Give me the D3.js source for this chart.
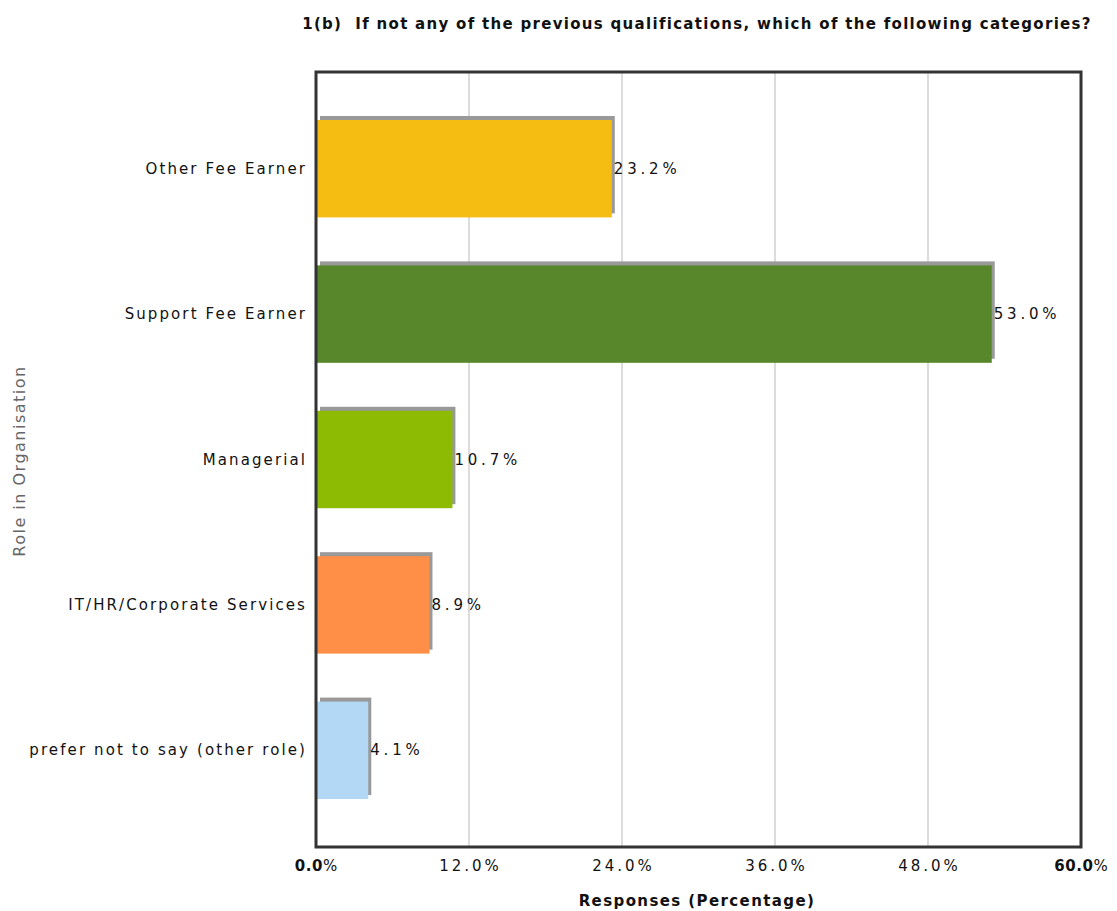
<!DOCTYPE html>
<html><head><meta charset="utf-8">
<script src="https://cdn.jsdelivr.net/npm/d3@7"></script>
<style>body{margin:0;background:#fff;} svg{display:block;}</style>
</head><body>
<svg id="chart" width="1117" height="911"></svg>
<script>
const categories = ["Other Fee Earner","Support Fee Earner","Managerial","IT/HR/Corporate Services","prefer not to say (other role)"];
const values = [23.2, 53.0, 10.7, 8.9, 4.1];
const colors = ["#F5BC12","#58862A","#8DBB04","#FF8F46","#B3D8F5"];
const tickValues = [0, 12, 24, 36, 48, 60];
const title = "1(b)  If not any of the previous qualifications, which of the following categories?";
const xTitle = "Responses (Percentage)";
const yTitle = "Role in Organisation";

const svg = d3.select("#chart");
const L = 316, R = 1081, T = 72, B = 847;
const x = d3.scaleLinear().domain([0, 60]).range([L, R]);
const y = d3.scaleBand().domain(categories).range([96, 823]).paddingInner(0.33).paddingOuter(0.165);

// gridlines
svg.append("g").selectAll("line").data(tickValues.filter(v => v > 0 && v < 60)).join("line")
  .attr("x1", d => x(d)).attr("x2", d => x(d)).attr("y1", T).attr("y2", B)
  .attr("stroke", "#d0d0d0").attr("stroke-width", 1.5);

// shadows
svg.append("g").selectAll("rect").data(values).join("rect")
  .attr("x", x(0) + 4).attr("y", (d, i) => y(categories[i]) - 4)
  .attr("width", d => x(d) - x(0) - 1).attr("height", y.bandwidth())
  .attr("fill", "#999");
// bars
svg.append("g").selectAll("rect").data(values).join("rect")
  .attr("x", x(0) + 1).attr("y", (d, i) => y(categories[i]))
  .attr("width", d => x(d) - x(0) - 1).attr("height", y.bandwidth())
  .attr("fill", (d, i) => colors[i]);

// value labels
svg.append("g").selectAll("text").data(values).join("text")
  .attr("x", d => x(d) + 2).attr("y", (d, i) => y(categories[i]) + y.bandwidth() / 2 + 5)
  .attr("font-family", "DejaVu Sans").attr("font-size", 15).attr("letter-spacing", 3.8)
  .attr("fill", "#111").text(d => d.toFixed(1) + "%");

// plot border
svg.append("rect").attr("x", L).attr("y", T).attr("width", R - L).attr("height", B - T)
  .attr("fill", "none").attr("stroke", "#333").attr("stroke-width", 3);

// category labels
svg.append("g").selectAll("text").data(categories).join("text")
  .attr("x", 307).attr("y", d => y(d) + y.bandwidth() / 2 + 5)
  .attr("text-anchor", "end").attr("font-family", "DejaVu Sans").attr("font-size", 15)
  .attr("letter-spacing", 2.1).attr("fill", "#111").text(d => d);

// x tick labels
const xt = svg.append("g").selectAll("text").data(tickValues).join("text")
  .attr("x", d => x(d)).attr("y", 871).attr("text-anchor", "middle")
  .attr("font-family", "DejaVu Sans").attr("font-size", 15).attr("letter-spacing", 3).attr("fill", "#111");
xt.each(function(d) {
  const t = d3.select(this);
  const bold = (d === 0 || d === 60);
  t.append("tspan").attr("font-weight", bold ? "bold" : "normal").attr("letter-spacing", bold ? 0.5 : 3).text(d.toFixed(1));
  t.append("tspan").attr("letter-spacing", 0).text("%");
});

// axis titles
svg.append("text").attr("x", 697).attr("y", 906).attr("text-anchor", "middle")
  .attr("font-family", "DejaVu Sans").attr("font-weight", "bold").attr("font-size", 15)
  .attr("letter-spacing", 1.4).attr("fill", "#111").text(xTitle);
svg.append("text").attr("transform", "translate(25,461) rotate(-90)").attr("text-anchor", "middle")
  .attr("font-family", "DejaVu Sans").attr("font-size", 16).attr("letter-spacing", 1.5)
  .attr("fill", "#666").text(yTitle);

// title
svg.append("text").attr("x", 697).attr("y", 29).attr("text-anchor", "middle")
  .attr("font-family", "DejaVu Sans").attr("font-weight", "bold").attr("font-size", 15)
  .attr("letter-spacing", 1.3).attr("fill", "#111").attr("xml:space", "preserve").text(title);
</script>
</body></html>
